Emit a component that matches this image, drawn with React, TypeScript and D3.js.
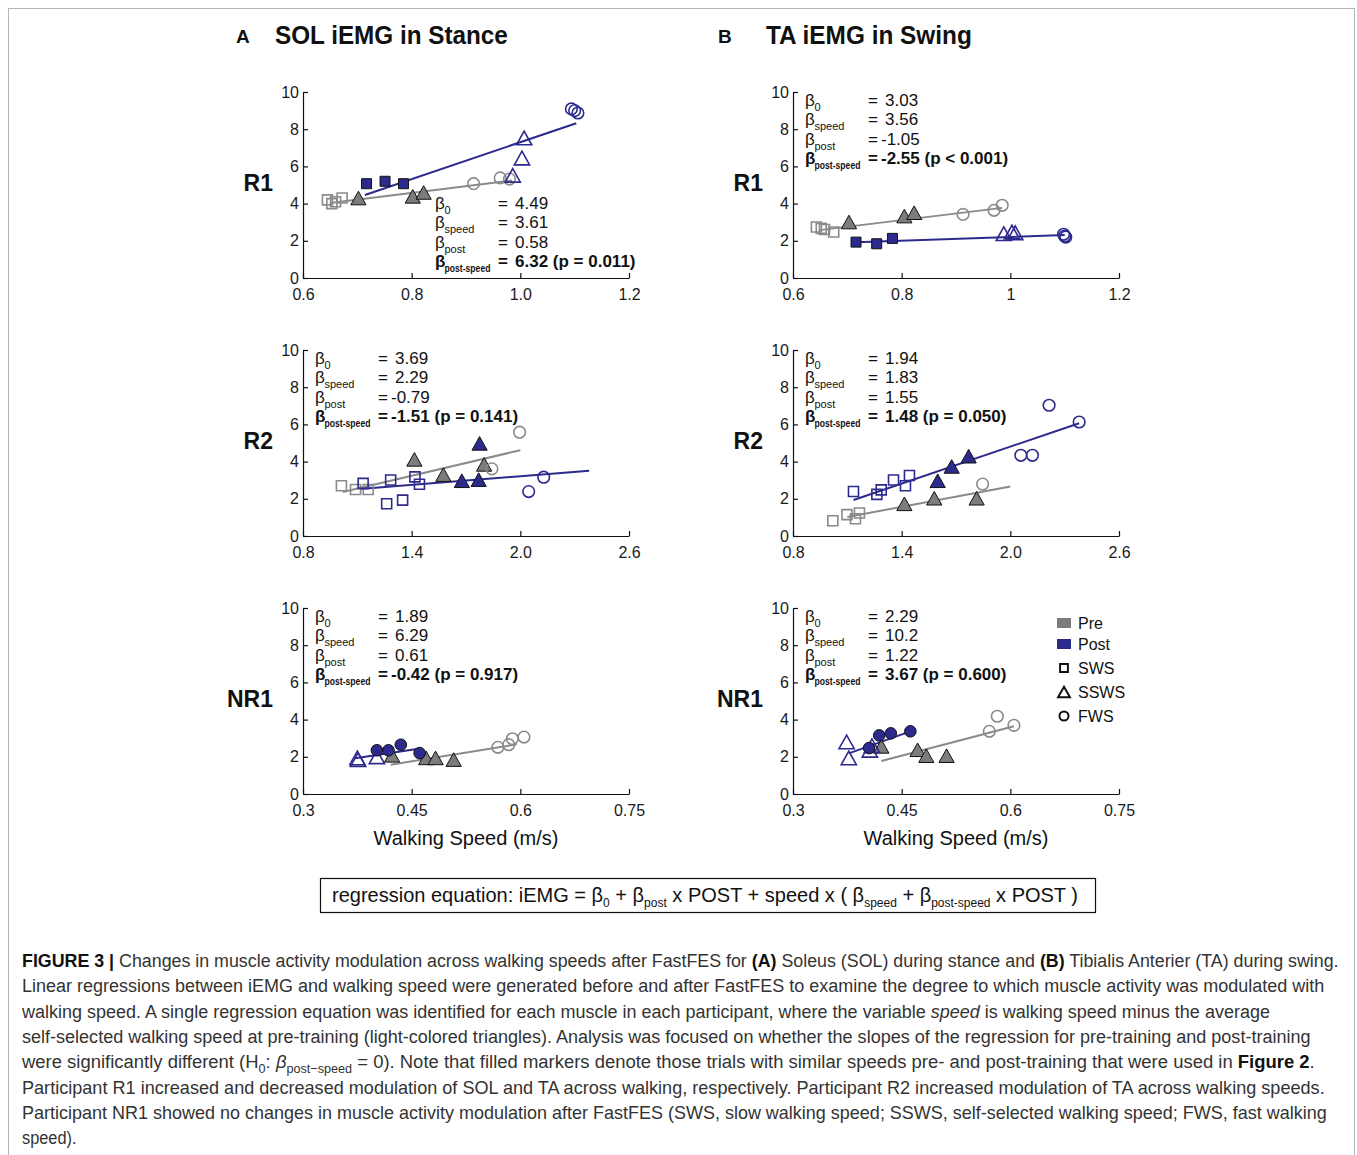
import React, { useEffect, useRef } from "react";
import * as d3 from "d3";

type Trial = "SWS" | "SSWS" | "FWS";
type Pt = [Trial, number, number]; // trial, walking speed (m/s), iEMG

// ---------- A: SOL iEMG in stance ----------
const solR1Pre: Pt[] = [
  ["SWS", 0.645, 4.2], ["SWS", 0.653, 4.0], ["SWS", 0.66, 4.1], ["SWS", 0.672, 4.3],
  ["SSWS", 0.702, 4.3], ["SSWS", 0.802, 4.39], ["SSWS", 0.822, 4.6],
  ["FWS", 0.914, 5.07], ["FWS", 0.963, 5.38], ["FWS", 0.98, 5.32],
];
const solR1Post: Pt[] = [
  ["SWS", 0.717, 5.07], ["SWS", 0.751, 5.2], ["SWS", 0.785, 5.07],
  ["SSWS", 1.007, 7.53], ["SSWS", 1.003, 6.45], ["SSWS", 0.986, 5.52],
  ["FWS", 1.094, 9.09], ["FWS", 1.1, 9.0], ["FWS", 1.106, 8.87],
];
const solR1Beta = [4.49, 3.61, 0.58, 6.32];
const solR1P = "p = 0.011";
const solR1Fit = [[0.65, 0.985], [0.714, 1.103]];

const solR2Pre: Pt[] = [
  ["SWS", 1.012, 2.7], ["SWS", 1.09, 2.5], ["SWS", 1.16, 2.5],
  ["SSWS", 1.415, 4.12], ["SSWS", 1.575, 3.3], ["SSWS", 1.8, 3.85],
  ["FWS", 1.996, 5.58], ["FWS", 1.843, 3.61],
];
const solR2Post: Pt[] = [
  ["SWS", 1.132, 2.83], ["SWS", 1.284, 3.01], ["SWS", 1.262, 1.73],
  ["SWS", 1.35, 1.93], ["SWS", 1.418, 3.18], ["SWS", 1.443, 2.78],
  ["SSWS", 1.677, 2.97], ["SSWS", 1.77, 3.03], ["SSWS", 1.775, 4.98],
  ["FWS", 2.046, 2.39], ["FWS", 2.129, 3.16],
];
const solR2Beta = [3.69, 2.29, -0.79, -1.51];
const solR2P = "p = 0.141";
const solR2Fit = [[1.02, 2.0], [1.114, 2.38]];

const solNR1Pre: Pt[] = [
  ["SSWS", 0.423, 2.08], ["SSWS", 0.47, 1.94], ["SSWS", 0.483, 1.94], ["SSWS", 0.508, 1.85],
  ["FWS", 0.569, 2.51], ["FWS", 0.584, 2.65], ["FWS", 0.589, 2.97], ["FWS", 0.605, 3.06],
];
const solNR1Post: Pt[] = [
  ["SSWS", 0.375, 1.94], ["SSWS", 0.376, 1.85], ["SSWS", 0.402, 2.0],
  ["FWS", 0.402, 2.35], ["FWS", 0.418, 2.35], ["FWS", 0.435, 2.65], ["FWS", 0.461, 2.2],
];
const solNR1Beta = [1.89, 6.29, 0.61, -0.42];
const solNR1P = "p = 0.917";
const solNR1Fit = [[0.421, 0.595], [0.372, 0.462]];

// ---------- B: TA iEMG in swing ----------
const taR1Pre: Pt[] = [
  ["SWS", 0.643, 2.74], ["SWS", 0.652, 2.67], ["SWS", 0.658, 2.61], ["SWS", 0.675, 2.47],
  ["SSWS", 0.703, 3.01], ["SSWS", 0.805, 3.33], ["SSWS", 0.823, 3.51],
  ["FWS", 0.913, 3.42], ["FWS", 0.97, 3.64], ["FWS", 0.985, 3.91],
];
const taR1Post: Pt[] = [
  ["SWS", 0.716, 1.93], ["SWS", 0.754, 1.84], ["SWS", 0.783, 2.13],
  ["SSWS", 0.988, 2.38], ["SSWS", 1.003, 2.47], ["SSWS", 1.009, 2.43],
  ["FWS", 1.098, 2.35], ["FWS", 1.1, 2.25], ["FWS", 1.102, 2.2],
];
const taR1Beta = [3.03, 3.56, -1.05, -2.55];
const taR1P = "p < 0.001";
const taR1Fit = [[0.649, 0.985], [0.716, 1.1]];

const taR2Pre: Pt[] = [
  ["SWS", 1.02, 0.82], ["SWS", 1.098, 1.15], ["SWS", 1.145, 0.93], ["SWS", 1.167, 1.24],
  ["SSWS", 1.415, 1.73], ["SSWS", 1.58, 2.03], ["SSWS", 1.814, 2.03],
  ["FWS", 1.847, 2.79],
];
const taR2Post: Pt[] = [
  ["SWS", 1.134, 2.39], ["SWS", 1.263, 2.24], ["SWS", 1.287, 2.48],
  ["SWS", 1.355, 3.01], ["SWS", 1.421, 2.7], ["SWS", 1.443, 3.25],
  ["SSWS", 1.599, 2.97], ["SSWS", 1.676, 3.74], ["SSWS", 1.77, 4.29],
  ["FWS", 2.058, 4.34], ["FWS", 2.122, 4.34], ["FWS", 2.214, 7.03], ["FWS", 2.38, 6.13],
];
const taR2Beta = [1.94, 1.83, 1.55, 1.48];
const taR2P = "p = 0.050";
const taR2Fit = [[1.1, 2.0], [1.134, 2.38]];

const taNR1Pre: Pt[] = [
  ["SSWS", 0.422, 2.56], ["SSWS", 0.472, 2.38], ["SSWS", 0.484, 2.06], ["SSWS", 0.512, 2.06],
  ["FWS", 0.571, 3.37], ["FWS", 0.582, 4.18], ["FWS", 0.605, 3.69],
];
const taNR1Post: Pt[] = [
  ["SSWS", 0.374, 2.8], ["SSWS", 0.377, 1.94], ["SSWS", 0.406, 2.35], ["SSWS", 0.409, 2.6],
  ["FWS", 0.405, 2.47], ["FWS", 0.419, 3.15], ["FWS", 0.435, 3.26], ["FWS", 0.462, 3.37],
];
const taNR1Beta = [2.29, 10.2, 1.22, 3.67];
const taNR1P = "p = 0.600";
const taNR1Fit = [[0.422, 0.605], [0.377, 0.463]];

// axes
const xTicksR1 = [0.6, 0.8, 1.0, 1.2];
const xLabelsR1A = ["0.6", "0.8", "1.0", "1.2"];
const xLabelsR1B = ["0.6", "0.8", "1", "1.2"];
const xTicksR2 = [0.8, 1.4, 2.0, 2.6];
const xLabelsR2 = ["0.8", "1.4", "2.0", "2.6"];
const xTicksNR1 = [0.3, 0.45, 0.6, 0.75];
const xLabelsNR1 = ["0.3", "0.45", "0.6", "0.75"];
const yTicks = [0, 2, 4, 6, 8, 10];
const rowNames = ["R1", "R2", "NR1"];
// post-training trials with speeds matching pre-training (filled markers)
const matchedPost: Trial[] = ["SWS", "SSWS", "FWS"];
const betaSubs = ["0", "speed", "post", "post-speed"];
const legendGroups = ["Pre", "Post"];
const legendTrials: Trial[] = ["SWS", "SSWS", "FWS"];

const caption: [string, string][][] = [
  [["FIGURE 3 | ", "b"], ["Changes in muscle activity modulation across walking speeds after FastFES for ", ""], ["(A)", "b"], [" Soleus (SOL) during stance and ", ""], ["(B)", "b"], [" Tibialis Anterier (TA) during swing.", ""]],
  [["Linear regressions between iEMG and walking speed were generated before and after FastFES to examine the degree to which muscle activity was modulated with", ""]],
  [["walking speed. A single regression equation was identified for each muscle in each participant, where the variable ", ""], ["speed", "i"], [" is walking speed minus the average", ""]],
  [["self-selected walking speed at pre-training (light-colored triangles). Analysis was focused on whether the slopes of the regression for pre-training and post-training", ""]],
  [["were significantly different (H", ""], ["0", "sub"], [": ", ""], ["β", "i"], ["post−speed", "sub"], [" = 0). Note that filled markers denote those trials with similar speeds pre- and post-training that were used in ", ""], ["Figure 2", "b"], [".", ""]],
  [["Participant R1 increased and decreased modulation of SOL and TA across walking, respectively. Participant R2 increased modulation of TA across walking speeds.", ""]],
  [["Participant NR1 showed no changes in muscle activity modulation after FastFES (SWS, slow walking speed; SSWS, self-selected walking speed; FWS, fast walking", ""]],
  [["speed).", ""]],
];
const captionEnds = [1340, 1325, 1271, 1311, 1316, 1325, 1327, 0];

const W = 1357;
const H = 1155;
const BLUE = "#2d2a8e";
const GRAY = "#8a8a8a";
const GRAY_FILL = "#7c7c7c";
const FONT = "'Liberation Sans', Arial, Helvetica, sans-serif";

type Sel = d3.Selection<SVGTextElement, unknown, null, undefined>;

// squeeze a text horizontally so that it spans `width` px starting at x
function fitWidth(t: Sel, x: number, y: number, width: number) {
  const len = (t.node() as SVGTextElement).getComputedTextLength();
  const k = len > 0 ? width / len : 1;
  t.attr("x", 0).attr("y", 0).attr("transform", `translate(${x},${y}) scale(${k},1)`);
}

function App() {
  const svgRef = useRef<SVGSVGElement>(null);

  useEffect(() => {
    const svg = d3.select(svgRef.current);
    svg.selectAll("*").remove();
    svg.style("font-family", FONT);

    // frame
    svg.append("rect").attr("x", 8.5).attr("y", 8.5).attr("width", 1346).attr("height", 1200)
      .attr("fill", "white").attr("stroke", "#b5b5b5");

    const colLeft = [303, 793];
    const rowTop = [92, 350, 608];
    const PW = 326;
    const PH = 186;

    const panels = [
      { c: 0, r: 0, pre: solR1Pre, post: solR1Post, beta: solR1Beta, p: solR1P, fit: solR1Fit, xt: xTicksR1, xl: xLabelsR1A, br: true },
      { c: 0, r: 1, pre: solR2Pre, post: solR2Post, beta: solR2Beta, p: solR2P, fit: solR2Fit, xt: xTicksR2, xl: xLabelsR2, br: false },
      { c: 0, r: 2, pre: solNR1Pre, post: solNR1Post, beta: solNR1Beta, p: solNR1P, fit: solNR1Fit, xt: xTicksNR1, xl: xLabelsNR1, br: false },
      { c: 1, r: 0, pre: taR1Pre, post: taR1Post, beta: taR1Beta, p: taR1P, fit: taR1Fit, xt: xTicksR1, xl: xLabelsR1B, br: false },
      { c: 1, r: 1, pre: taR2Pre, post: taR2Post, beta: taR2Beta, p: taR2P, fit: taR2Fit, xt: xTicksR2, xl: xLabelsR2, br: false },
      { c: 1, r: 2, pre: taNR1Pre, post: taNR1Post, beta: taNR1Beta, p: taNR1P, fit: taNR1Fit, xt: xTicksNR1, xl: xLabelsNR1, br: false },
    ];

    // marker path centred on 0,0
    const markerPath = (t: Trial, k = 1) => {
      if (t === "SWS") { const s = 5 * k; return `M${-s},${-s}H${s}V${s}H${-s}Z`; }
      if (t === "SSWS") { const w = 7.6 * k, h = 6.8 * k; return `M0,${-h}L${w},${h}L${-w},${h}Z`; }
      const r = 5.8 * k;
      return `M${r},0A${r},${r} 0 1 1 ${-r},0A${r},${r} 0 1 1 ${r},0Z`;
    };

    panels.forEach((pn, idx) => {
      const left = colLeft[pn.c];
      const top = rowTop[pn.r];
      const x = d3.scaleLinear().domain([pn.xt[0], pn.xt[pn.xt.length - 1]]).range([left, left + PW]);
      const y = d3.scaleLinear().domain([0, 10]).range([top + PH, top]);
      const g = svg.append("g");

      // axes (ticks point inward)
      const gx = g.append("g").attr("transform", `translate(0,${top + PH})`)
        .call(d3.axisBottom(x).tickValues(pn.xt).tickFormat((_d, i) => pn.xl[i])
          .tickSizeInner(-5).tickSizeOuter(0).tickPadding(11));
      const gy = g.append("g").attr("transform", `translate(${left},0)`)
        .call(d3.axisLeft(y).tickValues(yTicks).tickFormat(d3.format("d"))
          .tickSizeInner(-5).tickSizeOuter(0).tickPadding(4));
      [gx, gy].forEach((a) => {
        a.attr("font-family", FONT).attr("font-size", 16);
        a.selectAll("path,line").attr("stroke", "#111").attr("stroke-width", 1.2);
        a.selectAll("text").attr("fill", "#1a1a1a");
      });

      // row label
      g.append("text").attr("x", left - 30).attr("y", top + 99).attr("text-anchor", "end")
        .attr("font-size", 23).attr("font-weight", "bold").attr("fill", "#111").text(rowNames[pn.r]);

      // fitted lines: iEMG = b0 + bpost*POST + speed*(bspeed + bps*POST), speed centred on mean pre SSWS
      const s0 = d3.mean(pn.pre.filter((d) => d[0] === "SSWS"), (d) => d[1]) as number;
      const [b0, bs, bp, bps] = pn.beta;
      const line = d3.line<number[]>().x((d) => x(d[0])).y((d) => y(d[1]));
      const fitPts = (range: number[], post: number) =>
        range.map((v) => [v, b0 + bp * post + (v - s0) * (bs + bps * post)]);
      g.append("path").attr("d", line(fitPts(pn.fit[0], 0))).attr("stroke", GRAY).attr("stroke-width", 2).attr("fill", "none");
      g.append("path").attr("d", line(fitPts(pn.fit[1], 1))).attr("stroke", BLUE).attr("stroke-width", 2).attr("fill", "none");

      // markers
      const drawPts = (pts: Pt[], col: string, fillCol: string, filled: Trial) => {
        g.append("g").selectAll("path").data(pts).join("path")
          .attr("transform", (d) => `translate(${x(d[1])},${y(d[2])})`)
          .attr("d", (d) => markerPath(d[0]))
          .attr("fill", (d) => (d[0] === filled ? fillCol : "none"))
          .attr("stroke", (d) => (d[0] === filled ? "#111" : col))
          .attr("stroke-width", (d) => (d[0] === filled ? 1 : 1.6));
      };
      drawPts(pn.pre, GRAY, GRAY_FILL, "SSWS");
      drawPts(pn.post, BLUE, BLUE, matchedPost[pn.r]);

      // coefficients block
      const bx = pn.br ? left + 132 : left + 12;
      const by = pn.br ? top + 111 : top + 8;
      const eqx = bx + 63;
      pn.beta.forEach((b, i) => {
        const cy = by + i * 19.4 + 6;
        const bold = i === 3 ? "bold" : "normal";
        g.append("text").attr("x", bx).attr("y", cy).attr("font-size", 17).attr("font-weight", bold).attr("fill", "#111").text("β");
        const sub = g.append("text").attr("font-size", 11).attr("font-weight", bold)
          .attr("fill", "#111").text(betaSubs[i]);
        if (i === 3) fitWidth(sub, bx + 9.5, cy + 5, 46);
        else sub.attr("x", bx + 9.5).attr("y", cy + 5);
        g.append("text").attr("x", eqx).attr("y", cy).attr("font-size", 17).attr("font-weight", bold).attr("fill", "#111").text("=");
        g.append("text").attr("x", eqx + (b < 0 ? 13 : 17)).attr("y", cy).attr("font-size", 17).attr("font-weight", bold).attr("fill", "#111")
          .text(String(b) + (i === 3 ? ` (${pn.p})` : ""));
      });

      // legend in the last panel
      if (idx === panels.length - 1) {
        const lx = left + 264;
        const lg = g.append("g").attr("font-size", 16).attr("fill", "#111");
        legendGroups.forEach((name, i) => {
          const cy = top + 15 + i * 21;
          lg.append("rect").attr("x", lx).attr("y", cy - 5).attr("width", 14).attr("height", 10)
            .attr("fill", i === 0 ? GRAY_FILL : BLUE);
          lg.append("text").attr("x", lx + 21).attr("y", cy + 6).text(name);
        });
        legendTrials.forEach((t, i) => {
          const cy = top + 60 + i * 24;
          lg.append("path").attr("transform", `translate(${lx + 7},${cy})`).attr("d", markerPath(t, 0.78))
            .attr("fill", "none").attr("stroke", "#111").attr("stroke-width", 2);
          lg.append("text").attr("x", lx + 21).attr("y", cy + 6).text(t);
        });
      }
    });

    // panel titles
    const titles: [string, string, number, number, number][] = [
      ["A", "SOL iEMG in Stance", 236, 275, 233],
      ["B", "TA iEMG in Swing", 718, 766, 206],
    ];
    titles.forEach(([lt, name, lx, tx, tw]) => {
      svg.append("text").attr("x", lx).attr("y", 43).attr("font-size", 19).attr("font-weight", "bold").attr("fill", "#111").text(lt);
      const t = svg.append("text").attr("font-size", 25).attr("font-weight", "bold").attr("fill", "#111").text(name);
      fitWidth(t, tx, 44, tw);
    });

    // x axis titles
    colLeft.forEach((l) => {
      svg.append("text").attr("x", l + PW / 2).attr("y", 845).attr("text-anchor", "middle").attr("font-size", 20).attr("fill", "#111").text("Walking Speed (m/s)");
    });

    // regression equation box
    svg.append("rect").attr("x", 320.5).attr("y", 878.5).attr("width", 775).attr("height", 34).attr("fill", "none").attr("stroke", "#111").attr("stroke-width", 1.2);
    const eqParts: [string, string][] = [
      ["regression equation: iEMG = β", ""], ["0", "sub"], [" + β", ""], ["post", "sub"], [" x POST + speed x ( β", ""],
      ["speed", "sub"], [" + β", ""], ["post-speed", "sub"], [" x POST )", ""],
    ];
    const eq = svg.append("text").attr("font-size", 20).attr("fill", "#111");
    let shift = 0;
    eqParts.forEach(([s, st]) => {
      const want = st === "sub" ? 5 : 0;
      eq.append("tspan").attr("dy", want - shift).attr("font-size", st === "sub" ? 12 : 20).text(s);
      shift = want;
    });
    fitWidth(eq, 332, 902, 746);

    // caption
    caption.forEach((segs, li) => {
      const t = svg.append("text").attr("font-size", 19).attr("fill", "#333");
      let sh = 0;
      segs.forEach(([s, st]) => {
        const want = st === "sub" ? 5 : 0;
        const sp = t.append("tspan").attr("dy", want - sh).text(s);
        if (st === "sub") sp.attr("font-size", 13);
        if (st === "b") sp.attr("font-weight", "bold").attr("fill", "#111");
        if (st === "i") sp.attr("font-style", "italic");
        sh = want;
      });
      const yb = 967 + li * 25.3;
      if (captionEnds[li] > 0) fitWidth(t, 22, yb, captionEnds[li] - 22);
      else fitWidth(t, 22, yb, (t.node() as SVGTextElement).getComputedTextLength() * 0.86);
    });
  }, []);

  return (
    <svg ref={svgRef} width={W} height={H}
      style={{ position: "absolute", left: 0, top: 0, background: "#fff" }} />
  );
}

export default App;
